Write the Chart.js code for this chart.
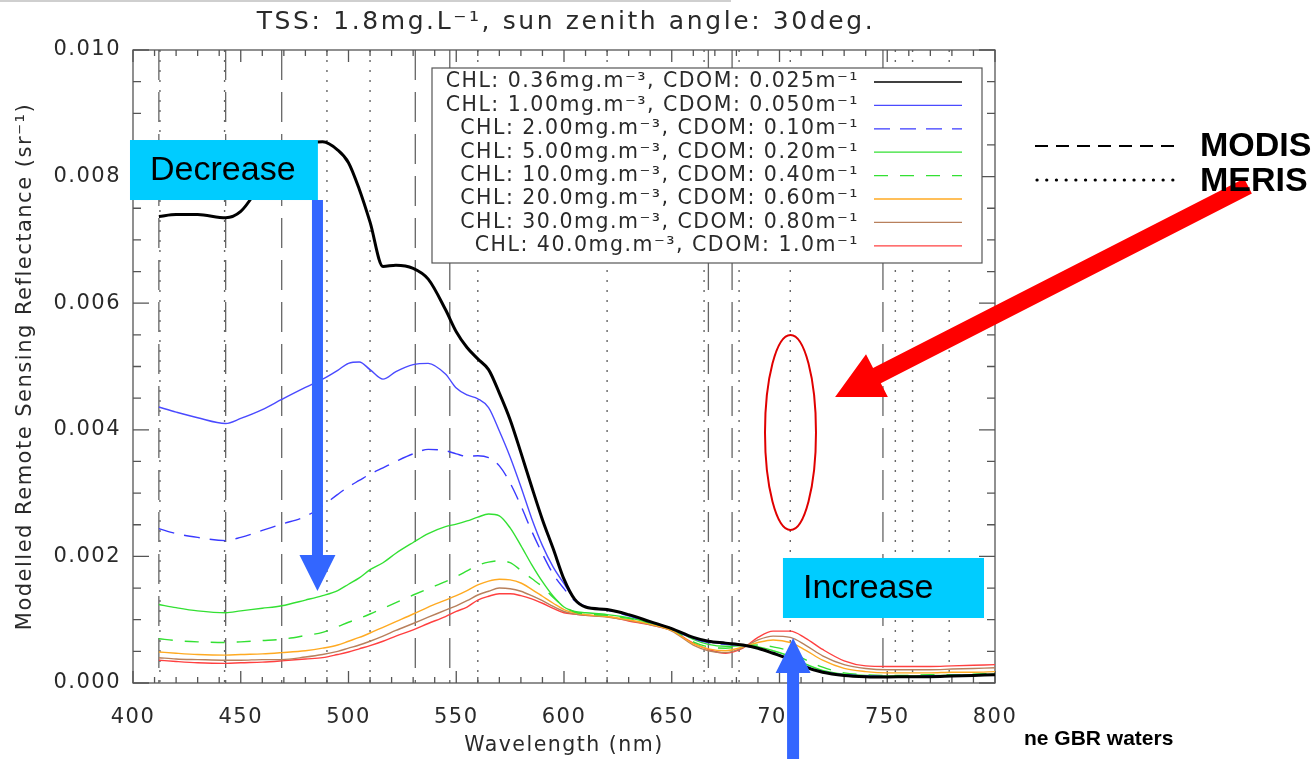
<!DOCTYPE html>
<html>
<head>
<meta charset="utf-8">
<script src="https://cdn.jsdelivr.net/npm/chart.js@4.4.1/dist/chart.umd.min.js"></script>
<style>
  html, body { margin: 0; padding: 0; background: #fff; }
  canvas { display: block; }
</style>
</head>
<body>
<canvas id="chart" width="1314" height="759"></canvas>
<script>
// wavelength grid (nm)
const wavelengths = [412, 420, 430, 443, 450, 460, 469, 480, 488, 495,
  500, 505, 510, 516, 522, 530, 537, 545, 550, 555,
  560, 565, 570, 575, 580, 585, 590, 595, 600, 605,
  610, 620, 630, 640, 650, 660, 667, 675, 683, 690,
  697, 705, 712, 720, 730, 740, 750, 760, 770, 780,
  790, 800];

// modelled Rrs (sr^-1)
const chl036 = [.00737, .00740, .00740, .00735, .00745, .00790, .00820, .00850, .00855, .00842,
  .00822, .00780, .00728, .00658, .00660, .00655, .00638, .00590, .00555, .00530,
  .00512, .00495, .00458, .00416, .00364, .00310, .00258, .00212, .00164, .00132,
  .00120, .00116, .00108, .00097, .00086, .00072, .00066, .00063, .00060, .00055,
  .00047, .00037, .00025, .00017, .00012, .00010, .000095, .00010, .00010, .00011,
  .00012, .00013];
const chl100 = [.00436, .00428, .00419, .00410, .00418, .00432, .00448, .00467, .00480, .00494,
  .00505, .00507, .00495, .00480, .00492, .00503, .00505, .00488, .00466, .00455,
  .00449, .00435, .00398, .00357, .00310, .00260, .00217, .00183, .00157, .00132,
  .00121, .00116, .00107, .00097, .00086, .00071, .00065, .00062, .00059, .00055,
  .00047, .00037, .00026, .00018, .00013, .00011, .00010, .00010, .00011, .00011,
  .00012, .00013];
const chl200 = [.00244, .00236, .00230, .00225, .00230, .00241, .00251, .00263, .00280, .00298,
  .00310, .00320, .00330, .00340, .00350, .00362, .00369, .00367, .00362, .00358,
  .00359, .00356, .00343, .00316, .00280, .00240, .00204, .00172, .00149, .00130,
  .00120, .00115, .00106, .00096, .00085, .00070, .00064, .00061, .00059, .00055,
  .00048, .00038, .00027, .00018, .00013, .00011, .00010, .00010, .00011, .00012,
  .00012, .00013];
const chl500 = [.00124, .00119, .00114, .00111, .00114, .00118, .00122, .00131, .00138, .00146,
  .00156, .00166, .00179, .00190, .00205, .00222, .00236, .00247, .00251, .00256,
  .00262, .00267, .00264, .00245, .00217, .00187, .00160, .00137, .00120, .00113,
  .00111, .00108, .00103, .00095, .00086, .00069, .00061, .00058, .00059, .00057,
  .00051, .00042, .00030, .00020, .00014, .00012, .00011, .00011, .00012, .00012,
  .00013, .00014];
const chl10 = [.00070, .00067, .00065, .00064, .00065, .00067, .00069, .00075, .00080, .00089,
  .00096, .00102, .00109, .00118, .00127, .00139, .00149, .00160, .00168, .00177,
  .00186, .00191, .00193, .00190, .00178, .00165, .00152, .00135, .00121, .00112,
  .00109, .00107, .00102, .00095, .00085, .00065, .00057, .00055, .00058, .00060,
  .00057, .00050, .00037, .00025, .00016, .00013, .00012, .00012, .00013, .00013,
  .00014, .00015];
const chl20 = [.00049, .00047, .00045, .00044, .00045, .00046, .00048, .00051, .00055, .00060,
  .00066, .00072, .00079, .00088, .00097, .00109, .00120, .00131, .00138, .00146,
  .00155, .00161, .00164, .00163, .00158, .00148, .00137, .00126, .00116, .00111,
  .00108, .00105, .00100, .00093, .00083, .00062, .00054, .00051, .00057, .00064,
  .00068, .00064, .00052, .00036, .00023, .00018, .00016, .00016, .00016, .00017,
  .00017, .00018];
const chl30 = [.00040, .00038, .00037, .00036, .00036, .00037, .00037, .00041, .00045, .00050,
  .00055, .00060, .00066, .00074, .00083, .00094, .00104, .00115, .00122, .00130,
  .00139, .00145, .00150, .00149, .00145, .00138, .00130, .00121, .00113, .00109,
  .00107, .00104, .00099, .00092, .00082, .00060, .00051, .00048, .00056, .00068,
  .00074, .00072, .00060, .00043, .00029, .00023, .00021, .00021, .00021, .00022,
  .00023, .00024];
const chl40 = [.00036, .00034, .00032, .00031, .00032, .00033, .00035, .00038, .00040, .00045,
  .00049, .00054, .00059, .00066, .00074, .00084, .00094, .00105, .00113, .00120,
  .00131, .00137, .00141, .00141, .00138, .00133, .00126, .00118, .00111, .00109,
  .00107, .00105, .00098, .00092, .00083, .00063, .00053, .00047, .00055, .00072,
  .00082, .00082, .00071, .00053, .00035, .00027, .00026, .00026, .00026, .00027,
  .00028, .00029];

const seriesLabels = [
  'CHL: 0.36mg.m\u207B\u00B3, CDOM: 0.025m\u207B\u00B9',
  'CHL: 1.00mg.m\u207B\u00B3, CDOM: 0.050m\u207B\u00B9',
  'CHL: 2.00mg.m\u207B\u00B3, CDOM: 0.10m\u207B\u00B9',
  'CHL: 5.00mg.m\u207B\u00B3, CDOM: 0.20m\u207B\u00B9',
  'CHL: 10.0mg.m\u207B\u00B3, CDOM: 0.40m\u207B\u00B9',
  'CHL: 20.0mg.m\u207B\u00B3, CDOM: 0.60m\u207B\u00B9',
  'CHL: 30.0mg.m\u207B\u00B3, CDOM: 0.80m\u207B\u00B9',
  'CHL: 40.0mg.m\u207B\u00B3, CDOM: 1.0m\u207B\u00B9'
];
const seriesValues = [chl036, chl100, chl200, chl500, chl10, chl20, chl30, chl40];

// sensor band centres (nm)
const modisBands = [412, 443, 469, 531, 547, 667, 678, 748];
const merisBands = [412.5, 442.5, 490, 510, 560, 620, 665, 681.25, 705, 753.75, 761.75, 778.75];

const xTicks = [400, 450, 500, 550, 600, 650, 700, 750, 800];

const styles = [
  { color: '#000000', width: 3, dash: [] },
  { color: '#4a4aff', width: 1.4, dash: [] },
  { color: '#3a3aff', width: 1.4, dash: [16, 10] },
  { color: '#33e033', width: 1.4, dash: [] },
  { color: '#33e033', width: 1.4, dash: [14, 12] },
  { color: '#ffaa22', width: 1.4, dash: [] },
  { color: '#b8805c', width: 1.4, dash: [] },
  { color: '#ff4040', width: 1.4, dash: [] }
];

const IDL = 'DejaVu Sans';
const textGray = '#2a2a2a';

function vline(ctx, x, top, bottom, dash) {
  ctx.setLineDash(dash);
  ctx.beginPath();
  ctx.moveTo(x, top);
  ctx.lineTo(x, bottom);
  ctx.stroke();
}

function arrow(ctx, x0, y0, x1, y1, shaftW, headL, headW) {
  const dx = x1 - x0, dy = y1 - y0, len = Math.hypot(dx, dy);
  const ux = dx / len, uy = dy / len, nx = -uy, ny = ux;
  const bx = x1 - ux * headL, by = y1 - uy * headL;
  ctx.beginPath();
  ctx.moveTo(x0 + nx * shaftW / 2, y0 + ny * shaftW / 2);
  ctx.lineTo(bx + nx * shaftW / 2, by + ny * shaftW / 2);
  ctx.lineTo(bx + nx * headW / 2, by + ny * headW / 2);
  ctx.lineTo(x1, y1);
  ctx.lineTo(bx - nx * headW / 2, by - ny * headW / 2);
  ctx.lineTo(bx - nx * shaftW / 2, by - ny * shaftW / 2);
  ctx.lineTo(x0 - nx * shaftW / 2, y0 - ny * shaftW / 2);
  ctx.closePath();
  ctx.fill();
}

const idlLook = {
  id: 'idlLook',
  beforeUpdate(chart) { chart.ctx.letterSpacing = '1.5px'; },
  beforeDraw(chart) { chart.ctx.letterSpacing = '1.5px'; },
  beforeDatasetsDraw(chart) {
    const { ctx, chartArea: a, scales: { x, y } } = chart;
    ctx.save();
    // band lines
    ctx.strokeStyle = '#666';
    ctx.lineWidth = 1.3;
    modisBands.forEach(b => vline(ctx, x.getPixelForValue(b), a.top, a.bottom, [30, 12]));
    ctx.lineWidth = 1.4;
    merisBands.forEach(b => vline(ctx, x.getPixelForValue(b), a.top, a.bottom, [2, 8]));
    ctx.setLineDash([]);

    // frame and inward ticks
    ctx.strokeStyle = '#555';
    ctx.lineWidth = 1.3;
    ctx.strokeRect(a.left, a.top, a.right - a.left, a.bottom - a.top);
    ctx.beginPath();
    for (let w = 400; w <= 800; w += 10) {
      const p = x.getPixelForValue(w);
      const len = w % 50 === 0 ? 12 : 6;
      ctx.moveTo(p, a.bottom); ctx.lineTo(p, a.bottom - len);
      ctx.moveTo(p, a.top); ctx.lineTo(p, a.top + len);
    }
    for (let i = 0; i <= 20; i++) {
      const p = y.getPixelForValue(i * 0.0005);
      const len = i % 4 === 0 ? 16 : 8;
      ctx.moveTo(a.left, p); ctx.lineTo(a.left + len, p);
      ctx.moveTo(a.right, p); ctx.lineTo(a.right - len, p);
    }
    ctx.stroke();
    ctx.restore();
  },
  afterDatasetsDraw(chart) {
    const { ctx, chartArea: a } = chart;
    ctx.save();

    // title
    ctx.letterSpacing = '2.6px';
    ctx.fillStyle = textGray;
    ctx.font = `25px "${IDL}"`;
    ctx.textAlign = 'center';
    ctx.textBaseline = 'middle';
    ctx.fillText('TSS: 1.8mg.L\u207B\u00B9, sun zenith angle: 30deg.', (a.left + a.right) / 2 + 2, 22);

    // legend box
    const lx0 = a.left + 299, ly0 = a.top + 18, lx1 = a.left + 849, ly1 = a.top + 213;
    ctx.fillStyle = '#fff';
    ctx.fillRect(lx0, ly0, lx1 - lx0, ly1 - ly0);
    ctx.strokeStyle = '#555';
    ctx.lineWidth = 1.2;
    ctx.strokeRect(lx0, ly0, lx1 - lx0, ly1 - ly0);
    ctx.font = `20.5px "${IDL}"`;
    ctx.letterSpacing = '1.5px';
    ctx.textAlign = 'right';
    chart.data.datasets.forEach((ds, i) => {
      const ry = a.top + 32 + i * 23.4;
      ctx.fillStyle = textGray;
      ctx.fillText(ds.label, a.left + 726, ry);
      ctx.strokeStyle = ds.borderColor;
      ctx.lineWidth = 1.3;
      ctx.setLineDash(ds.borderDash || []);
      ctx.beginPath();
      ctx.moveTo(a.left + 741, ry);
      ctx.lineTo(a.left + 829, ry);
      ctx.stroke();
    });
    ctx.setLineDash([]);
    ctx.restore();
  },
  afterDraw(chart) {
    const { ctx, chartArea: a, scales: { x, y } } = chart;
    const px = v => x.getPixelForValue(v), py = v => y.getPixelForValue(v);
    ctx.save();
    ctx.letterSpacing = '0px';

    // faint slide edge at the very top
    ctx.fillStyle = '#cfcfcf';
    ctx.fillRect(0, 0, 731, 2);

    // "Decrease" label and arrow
    ctx.fillStyle = '#00ccff';
    ctx.fillRect(px(398.6), py(0.008578), px(485.8) - px(398.6), py(0.00763) - py(0.008578));
    ctx.fillStyle = '#000';
    ctx.font = '34px "Liberation Sans"';
    ctx.textAlign = 'left';
    ctx.textBaseline = 'middle';
    ctx.fillText('Decrease', px(407.9), (py(0.008578) + py(0.00763)) / 2 + 1);
    ctx.fillStyle = '#3366ff';
    arrow(ctx, px(485.6), py(0.00763), px(485.6), py(0.001453), 11, 36, 36);

    // "Increase" label and arrow
    ctx.fillStyle = '#00ccff';
    ctx.fillRect(px(701.6), py(0.001975), px(794.9) - px(701.6), py(0.001027) - py(0.001975));
    ctx.fillStyle = '#000';
    ctx.fillText('Increase', px(710.9), (py(0.001975) + py(0.001027)) / 2 + 1);
    ctx.fillStyle = '#3366ff';
    arrow(ctx, px(706.3), chart.height + 2, px(706.3), py(0.000711), 12, 35, 35);

    // red ellipse round the 705 nm band
    ctx.strokeStyle = '#e00000';
    ctx.lineWidth = 2;
    ctx.beginPath();
    ctx.ellipse(px(705.1), py(0.003957), px(705.1 + 11.83) - px(705.1), py(0.003957) - py(0.003957 + 0.00154), 0, 0, Math.PI * 2);
    ctx.stroke();

    // red pointer
    ctx.fillStyle = '#ff0000';
    arrow(ctx, px(917.4), py(0.007852), px(725.8), py(0.004518), 17, 47, 48);

    // sensor key
    ctx.strokeStyle = '#000';
    ctx.lineWidth = 2;
    ctx.setLineDash([13, 8]);
    ctx.beginPath();
    ctx.moveTo(a.right + 40, 146); ctx.lineTo(a.right + 185, 146);
    ctx.stroke();
    ctx.lineWidth = 3.2;
    ctx.lineCap = 'round';
    ctx.setLineDash([0.1, 9.6]);
    ctx.beginPath();
    ctx.moveTo(a.right + 42, 180); ctx.lineTo(a.right + 186, 180);
    ctx.stroke();
    ctx.setLineDash([]);
    ctx.fillStyle = '#000';
    ctx.font = 'bold 34px "Liberation Sans"';
    ctx.fillText('MODIS', a.right + 205, 147);
    ctx.fillText('MERIS', a.right + 205, 182);

    ctx.font = 'bold 21px "Liberation Sans"';
    ctx.fillText('ne GBR waters', a.right + 29, 739);
    ctx.restore();
  }
};

const datasets = seriesValues.map((vals, i) => ({
  label: seriesLabels[i],
  data: wavelengths.map((w, j) => ({ x: w, y: vals[j] })),
  borderColor: styles[i].color,
  borderWidth: styles[i].width,
  borderDash: styles[i].dash,
  pointRadius: 0,
  fill: false,
  cubicInterpolationMode: 'monotone'
}));

new Chart(document.getElementById('chart'), {
  type: 'line',
  data: { datasets },
  plugins: [idlLook],
  options: {
    responsive: false,
    animation: false,
    devicePixelRatio: 1,
    layout: { padding: { left: 0, top: 50, right: 319, bottom: 0 } },
    plugins: {
      legend: { display: false },
      tooltip: { enabled: false },
      title: { display: false }
    },
    scales: {
      x: {
        type: 'linear',
        min: 400,
        max: 800,
        afterFit: s => { s.height = 76; },
        afterBuildTicks: s => { s.ticks = xTicks.map(v => ({ value: v })); },
        grid: { display: false, drawTicks: false },
        border: { display: false },
        ticks: {
          padding: 22,
          color: textGray,
          maxRotation: 0,
          autoSkip: false,
          font: { family: IDL, size: 21 },
          callback: v => String(v)
        },
        title: {
          display: true,
          text: 'Wavelength (nm)',
          color: textGray,
          font: { family: IDL, size: 20.5 },
          padding: { top: 0, bottom: 1 }
        }
      },
      y: {
        min: 0,
        max: 0.010,
        afterFit: s => { s.width = 133; },
        grid: { display: false, drawTicks: false },
        border: { display: false },
        ticks: {
          stepSize: 0.002,
          padding: 12,
          color: textGray,
          font: { family: IDL, size: 21 },
          callback: v => v.toFixed(3)
        },
        title: {
          display: true,
          text: 'Modelled Remote Sensing Reflectance (sr\u207B\u00B9)',
          color: textGray,
          font: { family: IDL, size: 21 },
          padding: { top: 13, bottom: 0 }
        }
      }
    }
  }
});
</script>
</body>
</html>
